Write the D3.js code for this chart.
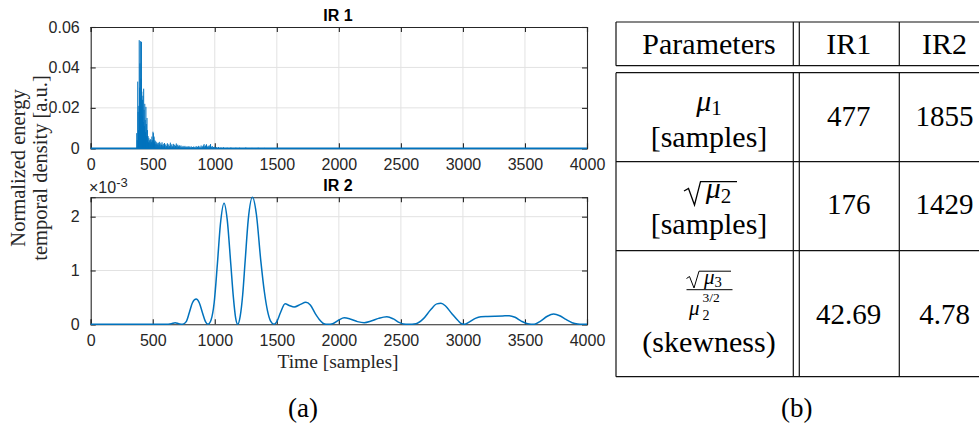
<!DOCTYPE html>
<html>
<head>
<meta charset="utf-8">
<script src="https://cdn.jsdelivr.net/npm/d3@7/dist/d3.min.js"></script>
<style>
  body { margin: 0; background: #fff; }
  svg { display: block; }
</style>
</head>
<body>
<svg id="chart" width="979" height="430"></svg>
<script>
// ---- data ----
const xTicks = [0, 500, 1000, 1500, 2000, 2500, 3000, 3500, 4000];
const ir1Ticks = [0, 0.02, 0.04, 0.06];
const ir2Ticks = [0, 0.001, 0.002];
const ir1Max = 0.06;
const ir2Max = 0.00236;
const sampleMax = 4000;

// IR 1: energy per sample [sample, value] (sparse early reflections, decaying tail)
const ir1Energy = [
  [371,0.0075],[375,0.004],[379,0.033],[382,0.018],[385,0.009],[388,0.021],[391,0.0535],
  [394,0.03],[397,0.042],[400,0.053],[403,0.025],[406,0.0345],[409,0.0527],[412,0.028],
  [415,0.016],[418,0.024],[421,0.026],[424,0.013],[427,0.0295],[430,0.019],[433,0.011],
  [436,0.022],[439,0.014],[442,0.008],[445,0.0205],[448,0.012],[451,0.006],[454,0.015],
  [457,0.009],[460,0.004],[463,0.006],[466,0.003],[469,0.005],[472,0.0025],[475,0.004],
  [478,0.003],[481,0.0045],[484,0.002],[487,0.004],[490,0.003],[493,0.0058],[496,0.003],
  [499,0.004],[502,0.0082],[505,0.0075],[508,0.005],[511,0.0058],[514,0.003],[517,0.004],
  [520,0.002],[524,0.0035],[528,0.002],[532,0.003],[536,0.0018],[540,0.0025],[544,0.0015],
  [548,0.0028],[552,0.002],[556,0.0032],[560,0.0015],[565,0.0025],[570,0.0018],[575,0.003],
  [580,0.0015],[585,0.0022],[590,0.0012],[595,0.0026],[600,0.0015],[606,0.002],[612,0.0012],
  [618,0.0025],[624,0.0015],[630,0.002],[636,0.0012],[642,0.0028],[648,0.0015],[654,0.002],
  [660,0.001],[666,0.0022],[672,0.0015],[678,0.0018],[684,0.0012],[690,0.0024],[696,0.0014],
  [702,0.0018],[708,0.001],[714,0.0015],[720,0.0012],[728,0.0014],[736,0.0008],[744,0.0012],
  [752,0.0009],[760,0.0012],[768,0.0007],[776,0.001],[784,0.0008],[792,0.0011],[800,0.0007],
  [810,0.001],[820,0.0006],[830,0.0009],[840,0.0007],[850,0.0011],[860,0.0008],[870,0.0012],
  [880,0.0009],[890,0.0014],[900,0.001],[908,0.0015],[914,0.0021],[920,0.001],[926,0.0014],
  [933,0.002],[940,0.0009],[947,0.0013],[954,0.001],[960,0.0015],[966,0.0021],[972,0.0008],
  [980,0.0011],[990,0.0006],[1000,0.0008],[1015,0.0005],[1030,0.0006],[1050,0.0004],
  [1070,0.0005],[1100,0.0003],[1130,0.0004],[1170,0.0003],[1200,0.0003],[1250,0.0004],
  [1300,0.0002],[1350,0.0003],[1400,0.0002],[1500,0.0002]
];

// IR 2: smoothed energy envelope [sample, value]
const ir2Energy = [
  [0,0],[600,0],[650,0.00001],[680,0.00003],[710,0.00001],[740,0],
  [770,0.00005],[795,0.00022],[820,0.0004],[850,0.00047],[875,0.0004],[900,0.00022],[925,0.00005],[945,0],
  [970,0.00008],[995,0.0004],[1021,0.00112],[1045,0.00185],[1075,0.00225],[1100,0.00195],
  [1129,0.00112],[1150,0.0005],[1168,0.00012],[1185,0],
  [1205,0.00015],[1225,0.00055],[1245,0.00118],[1270,0.00195],[1304,0.00236],[1335,0.00205],
  [1371,0.00118],[1400,0.0006],[1425,0.00025],[1450,0.00006],[1478,0],
  [1500,0.00005],[1530,0.00022],[1567,0.00038],[1600,0.00035],[1640,0.00032],[1690,0.00037],
  [1734,0.00041],[1770,0.00036],[1810,0.0002],[1850,0.00007],[1880,0.00001],[1909,0],
  [1950,0.00001],[2000,0.00008],[2043,0.00012],[2090,0.0001],[2150,0.00005],[2204,0.00003],
  [2260,0.00006],[2320,0.00011],[2387,0.00014],[2440,0.0001],[2490,0.00003],[2520,0.000005],
  [2560,0],[2621,0.00001],[2680,0.0001],[2740,0.00027],[2790,0.00038],[2823,0.00039],
  [2860,0.00034],[2910,0.0002],[2960,0.00007],[2990,0.00001],[3011,0],[3050,0.00004],
  [3100,0.00011],[3145,0.00014],[3200,0.000145],[3260,0.00015],[3320,0.000155],[3374,0.00016],
  [3420,0.00013],[3470,0.00006],[3522,0.00001],[3575,0],[3620,0.00005],[3680,0.00015],
  [3731,0.00019],[3780,0.00016],[3830,0.00009],[3880,0.00003],[3925,0.000005],[3960,0],[4000,0]
];

// moment table
const tableHeader = ["Parameters", "IR1", "IR2"];
const ir1Stats = ["477", "176", "42.69"];
const ir2Stats = ["1855", "1429", "4.78"];

// ---- styles ----
const AX = "#262626";
const GRID = "#e2e2e2";
const BLUE = "#0072BD";
const SANS = "'Liberation Sans', Arial, Helvetica, sans-serif";
const SERIF = "'Liberation Serif', 'Times New Roman', serif";

const svg = d3.select("#chart");
svg.append("rect").attr("width", 979).attr("height", 430).attr("fill", "#fff");

function serifText(parent, xx, yy, size, anchor) {
  return parent.append("text")
    .attr("x", xx).attr("y", yy)
    .attr("text-anchor", anchor || "middle")
    .style("font-family", SERIF)
    .style("font-size", size + "px").attr("fill", "#000");
}

const xLeft = 90.7, xRight = 587;
const x = d3.scaleLinear().domain([0, sampleMax]).range([xLeft, xRight]);

function panel(top, bottom, yMax, yTicks, fmt, title) {
  const y = d3.scaleLinear().domain([0, yMax]).range([bottom, top]);
  const g = svg.append("g");
  // grid
  g.append("g").selectAll("line").data(xTicks.slice(1, -1)).join("line")
    .attr("x1", d => x(d)).attr("x2", d => x(d)).attr("y1", top).attr("y2", bottom)
    .attr("stroke", GRID).attr("stroke-width", 1);
  g.append("g").selectAll("line").data(yTicks.filter(t => t > 0 && t < yMax)).join("line")
    .attr("x1", xLeft).attr("x2", xRight).attr("y1", d => y(d)).attr("y2", d => y(d))
    .attr("stroke", GRID).attr("stroke-width", 1);

  // axes with inward ticks on all four sides
  const bottomAxis = d3.axisBottom(x).tickValues(xTicks).tickSize(-5).tickPadding(10.5).tickFormat(d3.format("d"));
  const topAxis = d3.axisTop(x).tickValues(xTicks).tickSize(-5).tickFormat("");
  const leftAxis = d3.axisLeft(y).tickValues(yTicks).tickSize(-5).tickPadding(11).tickFormat(fmt);
  const rightAxis = d3.axisRight(y).tickValues(yTicks).tickSize(-5).tickFormat("");
  const styleAxis = sel => {
    sel.select(".domain").attr("stroke", AX).attr("stroke-width", 1.1);
    sel.selectAll(".tick line").attr("stroke", AX).attr("stroke-width", 1.1);
    sel.selectAll(".tick text").attr("fill", AX).style("font-family", SANS).style("font-size", "16px");
  };
  g.append("g").attr("transform", `translate(0,${bottom})`).call(bottomAxis).call(styleAxis);
  g.append("g").attr("transform", `translate(0,${top})`).call(topAxis).call(styleAxis);
  g.append("g").attr("transform", `translate(${xLeft},0)`).call(leftAxis).call(styleAxis);
  g.append("g").attr("transform", `translate(${xRight},0)`).call(rightAxis).call(styleAxis);

  g.append("text").attr("x", 338).attr("y", top - 6.5).attr("text-anchor", "middle")
    .attr("fill", "#000").style("font-family", SANS).style("font-size", "16px").style("font-weight", "bold")
    .text(title);
  return { g, y };
}

// IR 1 panel
const p1 = panel(27, 148.3, ir1Max, ir1Ticks, d => d === 0 ? "0" : d3.format(".2f")(d), "IR 1");
p1.g.append("path")
  .attr("d", ir1Energy.map(([s, v]) => `M${x(s)},${p1.y(0)}V${p1.y(v)}`).join(""))
  .attr("stroke", BLUE).attr("stroke-width", 1).attr("fill", "none");
p1.g.append("path")
  .attr("d", d3.line().x(d => x(d[0])).y(d => p1.y(d[1]))([[0, 0], [sampleMax, 0]]))
  .attr("stroke", BLUE).attr("stroke-width", 1.8).attr("fill", "none");

// IR 2 panel
const p2 = panel(197.3, 324.3, ir2Max, ir2Ticks, d => d3.format("d")(Math.round(d * 1000)), "IR 2");
p2.g.append("path")
  .attr("d", d3.line().x(d => x(d[0])).y(d => p2.y(d[1])).curve(d3.curveMonotoneX)(ir2Energy))
  .attr("stroke", BLUE).attr("stroke-width", 1.5).attr("fill", "none");

// exponent label of the IR 2 y axis
const expo = svg.append("text").attr("x", 89).attr("y", 193).attr("fill", AX)
  .style("font-family", SANS).style("font-size", "16px");
expo.append("tspan").text("×10");
expo.append("tspan").attr("dy", -6).style("font-size", "13px").text("-3");

// shared axis labels
serifText(svg, 338, 368, 19.5).attr("fill", AX).text("Time [samples]");
const yl = svg.append("g").attr("transform", "translate(0,168) rotate(-90)");
serifText(yl, 0, 25, 20.5).attr("fill", AX).text("Normalized energy");
serifText(yl, 0, 47, 20.5).attr("fill", AX).text("temporal density [a.u.]");

// ---- table ----
const T = svg.append("g");
const tl = (x1, y1, x2, y2) => T.append("line").attr("x1", x1).attr("y1", y1).attr("x2", x2).attr("y2", y2)
  .attr("stroke", "#111").attr("stroke-width", 1.2);
const tLeft = 616, tRight = 985;
const hTop = 22, hBot = 65.7, bTop = 72.7;
const rowEdges = [bTop, 161.7, 250.7, 376.7];
[hTop, hBot, ...rowEdges].forEach(yy => tl(tLeft, yy, tRight, yy));
[[hTop, hBot], [bTop, rowEdges[3]]].forEach(([a, b]) => {
  [tLeft, 793.3, 799.3, 899.3].forEach(xx => tl(xx, a, xx, b));
});

const colX = [709, 848.7, 944.5];
tableHeader.forEach((h, i) => serifText(T, colX[i], 54, 30).text(h));
const rowBase = [125.5, 214, 324];
ir1Stats.forEach((v, i) => serifText(T, colX[1], rowBase[i], 29).text(v));
ir2Stats.forEach((v, i) => serifText(T, colX[2], rowBase[i], 29).text(v));

// italic mu with a lowered index
function mu(xx, yy, sub, size) {
  const t = serifText(T, xx, yy, size);
  t.append("tspan").style("font-style", "italic").text("μ");
  t.append("tspan").attr("dy", size * 0.15).style("font-size", (size * 0.7) + "px").text(sub);
  return t;
}

// mu_1 [samples]
mu(709, 110.5, "1", 30);
serifText(T, 709, 147, 30).text("[samples]");

// sqrt(mu_2) [samples]
T.append("path").attr("d", "M684,191 L688.5,188.5 L694.5,205 L700.5,181.7 H737")
  .attr("stroke", "#000").attr("stroke-width", 1.3).attr("fill", "none");
mu(718.5, 198, "2", 30);
serifText(T, 709, 234, 30).text("[samples]");

// skewness: sqrt(mu_3) / mu_2^(3/2)
T.append("path").attr("d", "M686.5,278.5 L689.5,276.5 L694,288 L699,271.2 H731")
  .attr("stroke", "#000").attr("stroke-width", 1).attr("fill", "none");
mu(713, 283.5, "3", 21);
T.append("line").attr("x1", 686.5).attr("x2", 732.5).attr("y1", 289.7).attr("y2", 289.7)
  .attr("stroke", "#000").attr("stroke-width", 1);
serifText(T, 689, 314.5, 21, "start").append("tspan").style("font-style", "italic").text("μ");
serifText(T, 702.5, 302, 13.5, "start").text("3/2");
serifText(T, 702.5, 320, 14, "start").text("2");
serifText(T, 709, 352, 30).text("(skewness)");

// panel captions
serifText(svg, 303, 417, 27).text("(a)");
serifText(svg, 796.7, 417, 27).text("(b)");
</script>
</body>
</html>
